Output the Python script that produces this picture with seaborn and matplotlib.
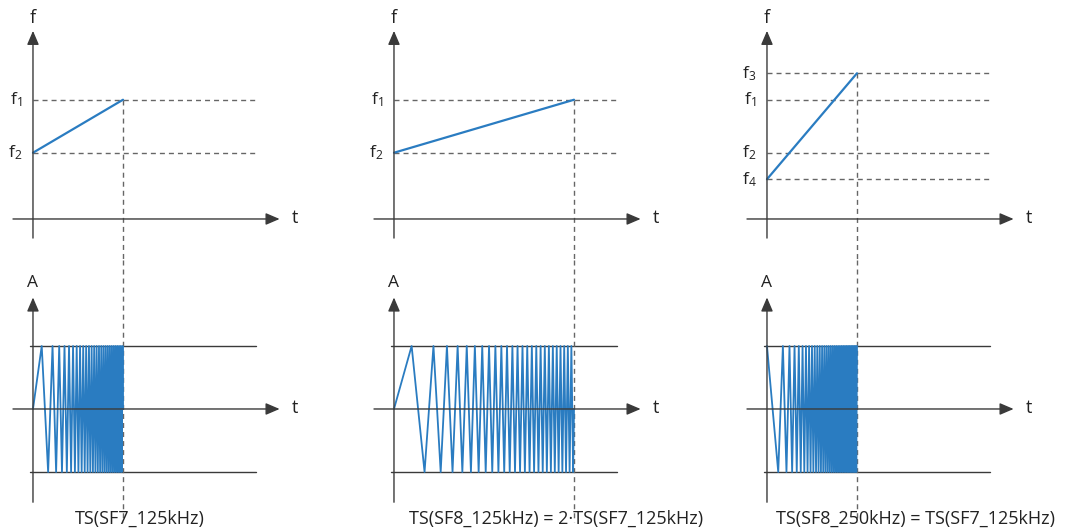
import numpy as np
import matplotlib
matplotlib.use("Agg")
import matplotlib.pyplot as plt
import seaborn as sns

# one column per spreading factor / bandwidth case
t_end = [1.0, 2.0, 1.0]              # chirp duration, in TS(SF7_125kHz)
f_start = [1.25, 1.25, 0.75]         # frequency at t=0
f_end = [2.25, 2.25, 2.75]           # frequency at end of symbol
f_levels = [[("f$_1$", 2.25), ("f$_2$", 1.25)],
            [("f$_1$", 2.25), ("f$_2$", 1.25)],
            [("f$_3$", 2.75), ("f$_1$", 2.25), ("f$_2$", 1.25), ("f$_4$", 0.75)]]
chirp_rate = [26.5, 6.5, 32.0]       # phase(t) = phase0 + rate * t^2, in cycles
chirp_phase0 = [0.0, 0.0, 0.25]
captions = ["TS(SF7_125kHz)",
            "TS(SF8_125kHz) = 2·TS(SF7_125kHz)",
            "TS(SF8_250kHz) = TS(SF7_125kHz)"]
caption_t = [0.47, 0.17, 0.10]

yaxis_px = [33, 394, 767]
BLUE = "#2a7cc1"
AXC = "#3a3a3a"
DASHC = "#666666"
TXT = "#222222"

sns.set_theme(style="white")
plt.rcParams["font.family"] = ["Open Sans", "DejaVu Sans"]
plt.rcParams["mathtext.default"] = "regular"

W, H = 1073, 530
fig = plt.figure(figsize=(W / 100, H / 100), dpi=100)


def axis_arrow(ax, start, tip):
    ax.annotate("", xy=tip, xytext=start,
                arrowprops=dict(arrowstyle="-|>,head_length=0.7,head_width=0.3",
                                color=AXC, lw=1.0, shrinkA=0, shrinkB=0),
                annotation_clip=False)


def triangle_chirp(rate, phase0, T):
    # vertices of a triangle wave whose phase grows with t^2
    ts = [0.0]
    n = 0
    while True:
        c = 0.25 + 0.5 * n
        n += 1
        if c <= phase0:
            continue
        t = np.sqrt((c - phase0) / rate)
        if t >= T:
            break
        ts.append(t)
    ts.append(T)
    ts = np.array(ts)
    ph = phase0 + rate * ts ** 2
    vals = 2 / np.pi * np.arcsin(np.sin(2 * np.pi * ph))
    return ts, vals


for i in range(3):
    left = (yaxis_px[i] - 20) / W
    width = 290 / W

    # frequency vs time
    ax = fig.add_axes([left, 270 / H, width, 260 / H])
    ax.set_xlim(-0.222, 3.0)
    ax.set_ylim(-0.774, 4.132)
    ax.axis("off")
    axis_arrow(ax, (-0.222, 0), (2.74, 0))
    axis_arrow(ax, (0, -0.36), (0, 3.55))
    ax.text(2.91, 0.02, "t", ha="center", va="center", fontsize=13, color=TXT)
    ax.text(0, 3.80, "f", ha="center", va="center", fontsize=13, color=TXT)
    for lab, fv in f_levels[i]:
        ax.plot([0, 2.48], [fv, fv], ls=(0, (3.6, 2.9)), color=DASHC, lw=1.0)
        ax.text(-0.12, fv, lab, ha="right", va="center", fontsize=12.5, color=TXT)
    ax.plot([t_end[i], t_end[i]], [f_end[i], -0.774], ls=(0, (3.6, 2.9)),
            color=DASHC, lw=1.0)
    sns.lineplot(x=[0, t_end[i]], y=[f_start[i], f_end[i]], ax=ax,
                 color=BLUE, lw=1.6, estimator=None)

    # amplitude vs time
    bx = fig.add_axes([left, 0, width, 270 / H])
    bx.set_xlim(-0.222, 3.0)
    bx.set_ylim(-1.921, 2.365)
    bx.axis("off")
    for a in (1, -1):
        bx.plot([-0.03, 2.48], [a, a], color=AXC, lw=1.0)
    axis_arrow(bx, (-0.222, 0), (2.74, 0))
    axis_arrow(bx, (0, -1.48), (0, 1.77))
    bx.text(2.91, 0.02, "t", ha="center", va="center", fontsize=13, color=TXT)
    bx.text(0, 2.0, "A", ha="center", va="center", fontsize=12.5, color=TXT)
    bx.plot([t_end[i], t_end[i]], [2.365, -1.8], ls=(0, (3.6, 2.9)),
            color=DASHC, lw=1.0)
    ts, vals = triangle_chirp(chirp_rate[i], chirp_phase0[i], t_end[i])
    sns.lineplot(x=ts, y=vals, ax=bx, color=BLUE, lw=1.3,
                 estimator=None, sort=False)
    bx.text(caption_t[i], -1.74, captions[i], ha="left", va="center",
            fontsize=13, color=TXT)

fig.savefig("out.png", dpi=100)
